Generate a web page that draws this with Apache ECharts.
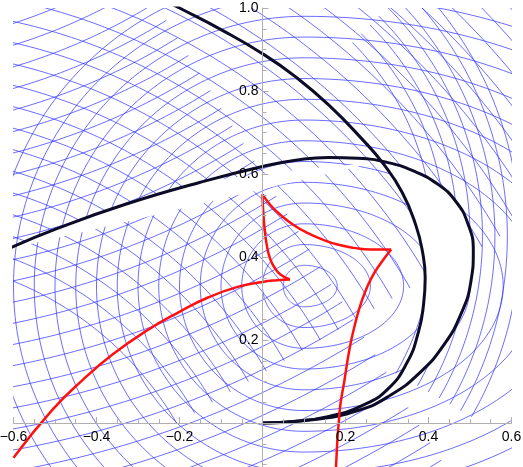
<!DOCTYPE html>
<html><head><meta charset="utf-8">
<script src="https://cdn.jsdelivr.net/npm/echarts@6/dist/echarts.min.js"></script>
<style>html,body{margin:0;padding:0;background:#fff}#c{width:523px;height:467px}</style>
</head><body><div id="c"></div>
<script>
// ---- axes ----
const xRange = [-0.6, 0.6];
const yRange = [-0.2, 1.0];
const tickStep = 0.2;
const xTickLabels = {'-0.6':'\u22120.6','-0.4':'\u22120.4','-0.2':'\u22120.2','0.2':'0.2','0.4':'0.4','0.6':'0.6'};
const yTickLabels = {'0.2':'0.2','0.4':'0.4','0.6':'0.6','0.8':'0.8','1.0':'1.0'};

// ---- black curves ----
const blackCurveInner = [[-0.215,1.008],[-0.2,1.0],[-0.1,0.948],[0,0.89],[0.08,0.834],[0.16,0.766],[0.24,0.684],[0.29,0.626],[0.337,0.555],[0.37,0.475],[0.386,0.41],[0.392,0.35],[0.388,0.285],[0.376,0.22],[0.348,0.145],[0.3,0.08],[0.24,0.042],[0.16,0.016],[0.08,0.004],[0,0]];
const blackCurveOuter = [[-0.61,0.421],[-0.494,0.469],[-0.33,0.527],[-0.15,0.58],[0,0.618],[0.08,0.633],[0.159,0.64],[0.23,0.638],[0.3,0.628],[0.362,0.608],[0.42,0.577],[0.465,0.535],[0.495,0.48],[0.508,0.415],[0.502,0.34],[0.478,0.262],[0.437,0.188],[0.38,0.122],[0.31,0.068],[0.23,0.03],[0.12,0.008],[0,0]];
// the two curves cross near this point; the gap below the crossing is left blank
const crossing = [0.285, 0.631];

// ---- red caustic, split at its cusps ----
const redBranchLeft = [[-0.6,-0.084],[-0.507,0.031],[-0.433,0.104],[-0.36,0.166],[-0.28,0.222],[-0.2,0.268],[-0.13,0.303],[-0.06,0.328],[0,0.34],[0.035,0.344],[0.066,0.346]];
const redEdgeLeft = [[0.066,0.346],[0.044,0.357],[0.028,0.376],[0.018,0.397],[0.011,0.425],[0.006,0.46],[0.002,0.505],[0,0.551]];
const redEdgeTop = [[0,0.551],[0.02,0.524],[0.044,0.501],[0.075,0.477],[0.108,0.458],[0.145,0.442],[0.181,0.43],[0.22,0.422],[0.26,0.418],[0.31,0.418]];
const redBranchRight = [[0.31,0.418],[0.285,0.385],[0.264,0.352],[0.247,0.315],[0.233,0.275],[0.221,0.23],[0.21,0.18],[0.197,0.1],[0.186,0.03],[0.177,-0.11]];

// ---- blue mesh families (centre, radii, stretch, angle span in degrees) ----
const ringCenter = [0.1, 0.33];
const ringLeftRadii = [0.05,0.1,0.15,0.2,0.25,0.3,0.35,0.4,0.45,0.5,0.55,0.6,0.65,0.7,0.75];
const ringLeftSpan = [90, 270];
const ringRightRadii = [0.05,0.1,0.15,0.2,0.25,0.3,0.35,0.4,0.45,0.5,0.55,0.6,0.65,0.7];
const ringRightStretch = 1.6;
const ringRightSpan = [-90, 90];
const ascCenter = [-1.0, 2.2];
const ascRadii = [1.3,1.35,1.4,1.45,1.5,1.55,1.6,1.65,1.7,1.75,1.8,1.85,1.9,1.95,2.0,2.05,2.1,2.15,2.2,2.25,2.3,2.35,2.4,2.45,2.5,2.55,2.6,2.65,2.7,2.75,2.8];
const ascSpan = [-110, -58];
const descCenter = [-0.9, -0.4];
const descRadii = [0.8,0.85,0.9,0.95,1.0,1.05,1.1,1.15,1.2,1.25,1.3,1.35,1.4,1.45,1.5,1.55,1.6,1.65,1.7,1.75,1.8,1.85,1.9,1.95,2.0,2.05,2.1];
const descSpan = [30, 95];
const sideCenter = [-0.25, 0.45];
const sideRadii = [0.66,0.69,0.72,0.75,0.78,0.81,0.84,0.87];
const sideSpan = [-30, 45];

const arcs = [];
ringLeftRadii.forEach(r => arcs.push([ringCenter[0], ringCenter[1], r, r, ringLeftSpan[0], ringLeftSpan[1]]));
ringRightRadii.forEach(r => arcs.push([ringCenter[0], ringCenter[1], r * ringRightStretch, r, ringRightSpan[0], ringRightSpan[1]]));
ascRadii.forEach(r => arcs.push([ascCenter[0], ascCenter[1], r, r, ascSpan[0], ascSpan[1]]));
descRadii.forEach(r => arcs.push([descCenter[0], descCenter[1], r, r, descSpan[0], descSpan[1]]));
sideRadii.forEach(r => arcs.push([sideCenter[0], sideCenter[1], r, r, sideSpan[0], sideSpan[1]]));

function arcItem(params, api) {
  const c = api.coord([api.value(0), api.value(1)]);
  const s = api.size([api.value(2), api.value(3)]);
  const a0 = api.value(4) * Math.PI / 180, a1 = api.value(5) * Math.PI / 180;
  const n = 120, pts = [];
  for (let k = 0; k <= n; k++) {
    const a = a0 + (a1 - a0) * k / n;
    pts.push([c[0] + s[0] * Math.cos(a), c[1] - s[1] * Math.sin(a)]);
  }
  return {type: 'polyline', shape: {points: pts}, style: {stroke: 'rgba(50,50,255,0.8)', lineWidth: 0.9, fill: null}};
}

// blank crescent between the curves, below their crossing
const gapOutline = [crossing].concat(
  blackCurveOuter.filter(p => p[0] > crossing[0] || p[1] < crossing[1] - 0.05),
  blackCurveInner.filter(p => p[1] < crossing[1]).reverse()
);
function gapItem(params, api) {
  return {type: 'polygon', shape: {points: gapOutline.map(p => api.coord(p)), smooth: 0.3},
          style: {fill: '#fff', stroke: null}};
}

const FONT = 'Liberation Sans, Arial, sans-serif';
const axisColor = '#b0b0b0';
function lineSeries(data, color, width, smooth, z) {
  return {type: 'line', data: data, showSymbol: false, smooth: smooth, silent: true, z: z,
    lineStyle: {color: color, width: width}, animation: false};
}

const chart = echarts.init(document.getElementById('c'), null, {renderer: 'canvas'});
chart.setOption({
  animation: false,
  backgroundColor: '#fff',
  grid: {left: 13.5, right: 11.5, top: 8, bottom: -39, containLabel: false, outerBoundsMode: 'none'},
  xAxis: {
    type: 'value', min: xRange[0], max: xRange[1], interval: tickStep, z: 10,
    position: 'bottom', offset: -83,
    axisLine: {onZero: false, lineStyle: {color: axisColor, width: 1}},
    axisTick: {inside: true, length: 6, lineStyle: {color: axisColor}},
    minorTick: {show: true, splitNumber: 4, length: 4, lineStyle: {color: axisColor}},
    splitLine: {show: false},
    axisLabel: {margin: 7, color: '#000', fontSize: 14, fontFamily: FONT,
      formatter: v => xTickLabels[v.toFixed(1)] || ''}
  },
  yAxis: {
    type: 'value', min: yRange[0], max: yRange[1], interval: tickStep, z: 10,
    position: 'left', offset: -249,
    axisLine: {onZero: false, lineStyle: {color: axisColor, width: 1}},
    axisTick: {inside: true, length: 6, lineStyle: {color: axisColor}},
    minorTick: {show: true, splitNumber: 4, length: 4, lineStyle: {color: axisColor}},
    splitLine: {show: false},
    axisLabel: {margin: 4, color: '#000', fontSize: 14, fontFamily: FONT,
      formatter: v => yTickLabels[v.toFixed(1)] || ''}
  },
  series: [
    {type: 'custom', renderItem: arcItem, data: arcs, clip: true, silent: true, z: 1, encode: {x: 0, y: 1}},
    {type: 'custom', renderItem: gapItem, data: [crossing], clip: true, silent: true, z: 2, encode: {x: 0, y: 1}},
    lineSeries(blackCurveInner, '#0c0c28', 3, 0.5, 3),
    lineSeries(blackCurveOuter, '#0c0c28', 3, 0.5, 3),
    lineSeries(redBranchLeft, '#ff1010', 2.5, 0.5, 4),
    lineSeries(redEdgeLeft, '#ff1010', 2.5, 0.5, 4),
    lineSeries(redEdgeTop, '#ff1010', 2.5, 0.5, 4),
    lineSeries(redBranchRight, '#ff1010', 2.5, 0.5, 4)
  ]
});
</script></body></html>
